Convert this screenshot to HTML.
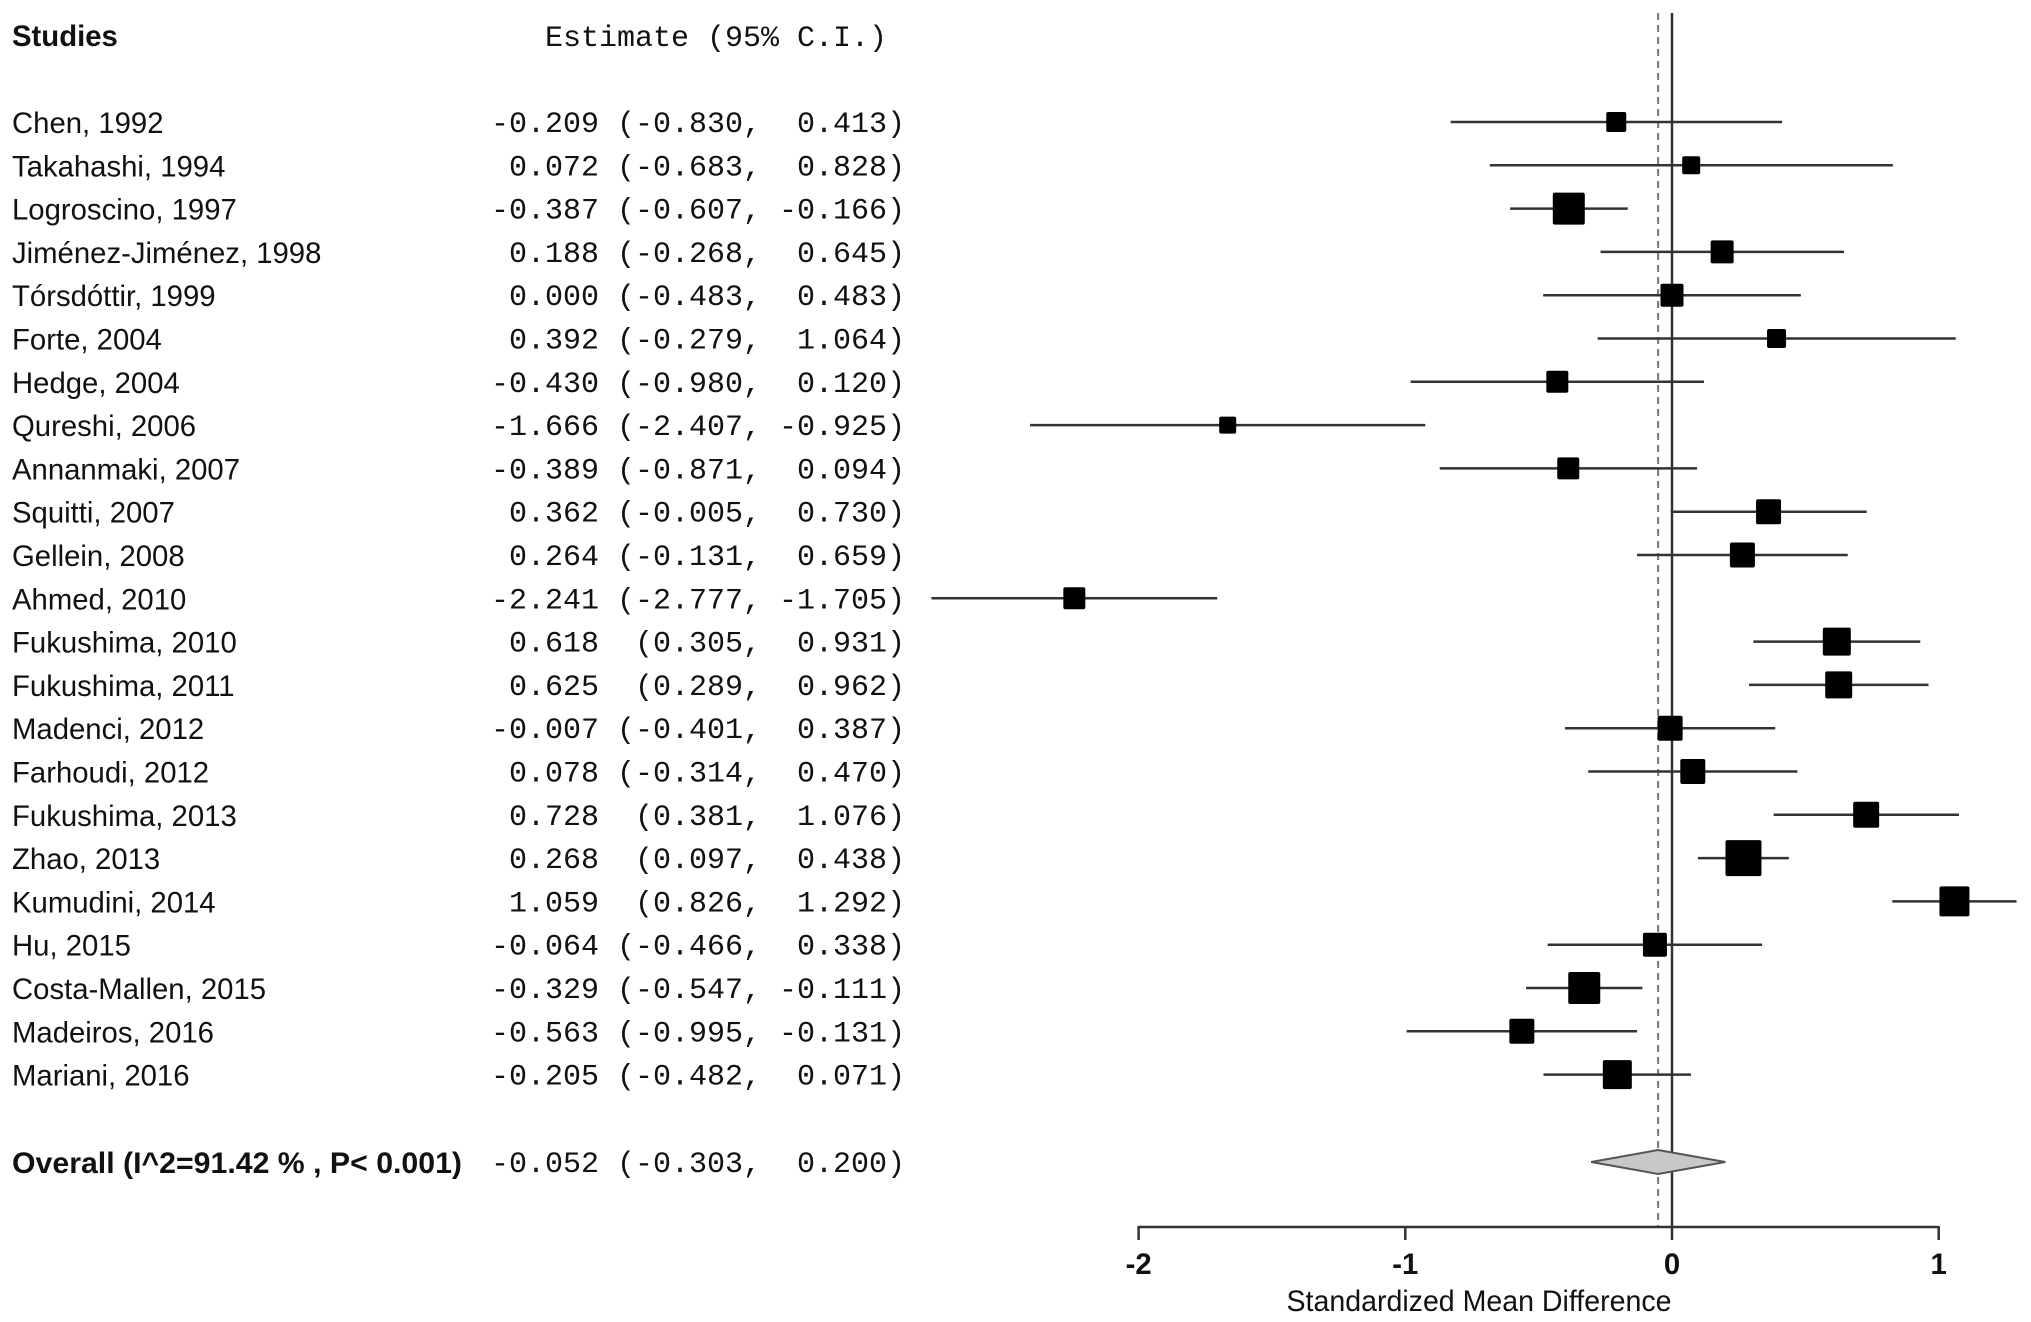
<!DOCTYPE html>
<html><head><meta charset="utf-8"><style>
html,body{margin:0;padding:0;background:#fff;}
svg{display:block;}
.s{font-family:"Liberation Sans",Arial,sans-serif;font-size:29.3px;fill:#111;}
.m{font-family:"Liberation Mono",monospace;font-size:30px;fill:#111;white-space:pre;}
</style></head><body>
<svg id="c" width="2031" height="1322" xmlns="http://www.w3.org/2000/svg">
<text x="12" y="46" class="s" font-weight="bold">Studies</text>
<text x="545" y="46" class="m" xml:space="preserve">Estimate (95% C.I.)</text>
<g id="plot"></g>
</svg>
<script>
const studies=["Chen, 1992","Takahashi, 1994","Logroscino, 1997","Jiménez-Jiménez, 1998","Tórsdóttir, 1999","Forte, 2004","Hedge, 2004","Qureshi, 2006","Annanmaki, 2007","Squitti, 2007","Gellein, 2008","Ahmed, 2010","Fukushima, 2010","Fukushima, 2011","Madenci, 2012","Farhoudi, 2012","Fukushima, 2013","Zhao, 2013","Kumudini, 2014","Hu, 2015","Costa-Mallen, 2015","Madeiros, 2016","Mariani, 2016"];
const est=[-0.209,0.072,-0.387,0.188,0.000,0.392,-0.430,-1.666,-0.389,0.362,0.264,-2.241,0.618,0.625,-0.007,0.078,0.728,0.268,1.059,-0.064,-0.329,-0.563,-0.205];
const lower=[-0.830,-0.683,-0.607,-0.268,-0.483,-0.279,-0.980,-2.407,-0.871,-0.005,-0.131,-2.777,0.305,0.289,-0.401,-0.314,0.381,0.097,0.826,-0.466,-0.547,-0.995,-0.482];
const upper=[0.413,0.828,-0.166,0.645,0.483,1.064,0.120,-0.925,0.094,0.730,0.659,-1.705,0.931,0.962,0.387,0.470,1.076,0.438,1.292,0.338,-0.111,-0.131,0.071];
const weights=[20,18,32,23,23,19,22,17,22,25,25,22,28,27,25,25,26,36,30,24,32,25,29];
const overallLabel="Overall (I^2=91.42 % , P< 0.001)";
const overall=[-0.052,-0.303,0.200];
const ticks=[-2,-1,0,1];
const tickLabels=["-2","-1","0","1"];

const NS="http://www.w3.org/2000/svg";
const x0=1672, unit=266.7;
const X=v=>x0+v*unit;
const rowY=i=>122+i*43.3;
const g=document.getElementById('plot');
function mk(t,a){const e=document.createElementNS(NS,t);for(const k in a)e.setAttribute(k,a[k]);g.appendChild(e);return e;}
function f(v){return v.toFixed(3);}
function pad(s,n){while(s.length<n)s=" "+s;return s;}
function ci(a,b,c){return pad(f(a),6)+" "+pad("("+f(b),7)+", "+pad(f(c),6)+")";}
const yOv=1162;
let e=mk('line',{x1:X(0),x2:X(0),y1:13,y2:1227,stroke:'#333','stroke-width':2.5});


e=mk('line',{x1:X(overall[0]),x2:X(overall[0]),y1:13,y2:1227,stroke:'#777','stroke-width':2,'stroke-dasharray':'7,5'});


studies.forEach((s,i)=>{
  const y=rowY(i);
  let t=mk('text',{x:12,y:y+11,class:'s'});t.textContent=s;
  
  
  t=mk('text',{x:491,y:y+10,class:'m','xml:space':'preserve'});
  t.textContent=ci(est[i],lower[i],upper[i]);
  
  
  const l=mk('line',{x1:X(lower[i]),x2:X(upper[i]),y1:y,y2:y,stroke:'#333','stroke-width':2.5});
  
  
  const w=weights[i];
  const r=mk('rect',{x:X(est[i])-w/2,y:y-w/2,width:w,height:w,fill:'#000',rx:2});
  
  
});
let t=mk('text',{x:12,y:yOv+11,class:'s','font-weight':'bold',textLength:450,lengthAdjust:'spacingAndGlyphs'});t.textContent=overallLabel;


t=mk('text',{x:491,y:yOv+10,class:'m','xml:space':'preserve'});
t.textContent=ci(overall[0],overall[1],overall[2]);


const d=mk('polygon',{points:`${X(overall[1])},${yOv} ${X(overall[0])},${yOv-12} ${X(overall[2])},${yOv} ${X(overall[0])},${yOv+12}`,fill:'#c8c8c8',stroke:'#555','stroke-width':2});


e=mk('line',{x1:X(ticks[0]),x2:X(ticks[ticks.length-1]),y1:1227,y2:1227,stroke:'#333','stroke-width':2.5});


ticks.forEach((v,i)=>{
  const tk=mk('line',{x1:X(v),x2:X(v),y1:1226,y2:1240,stroke:'#333','stroke-width':2.5});
  
  
  const tl=mk('text',{x:X(v),y:1274,class:'s','text-anchor':'middle','font-size':'26','font-weight':'bold'});tl.textContent=tickLabels[i];
  
  
});
t=mk('text',{x:1479,y:1311,class:'s','text-anchor':'middle','font-size':'28',textLength:385,lengthAdjust:'spacingAndGlyphs'});t.textContent="Standardized Mean Difference";


</script>
</body></html>
